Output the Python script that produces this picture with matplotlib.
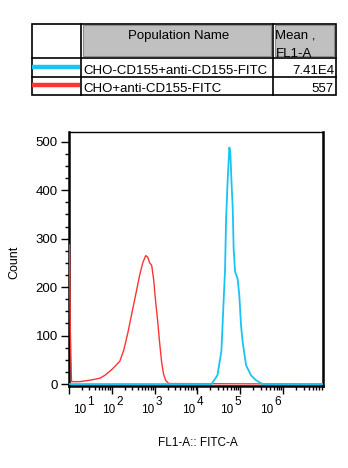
import numpy as np
import matplotlib
matplotlib.use("Agg")
import matplotlib.pyplot as plt
from matplotlib.patches import Rectangle
from matplotlib.ticker import MultipleLocator, LogLocator, NullFormatter

plt.rcParams['font.family'] = ['Liberation Sans', 'DejaVu Sans']

# populations shown in the overlay
populations = ["CHO-CD155+anti-CD155-FITC", "CHO+anti-CD155-FITC"]
mean_fl1 = ["7.41E4", "557"]
colors = ["#18c4f2", "#ff3333"]

# histogram outlines, x in log10(FL1-A)
red_log = [1.01, 1.03, 1.058, 1.256, 1.488, 1.721, 1.837, 2.0, 2.186, 2.279,
           2.372, 2.465, 2.558, 2.651, 2.721, 2.791, 2.837, 2.884, 2.93, 2.977,
           3.023, 3.07, 3.116, 3.163, 3.209, 3.256, 3.326, 6.93]
red_count = [287, 115, 5, 5, 8, 12, 18, 30, 47, 70,
             105, 145, 185, 225, 250, 265, 262, 250, 245, 215,
             170, 130, 85, 45, 20, 8, 1, 0]

blue_log = [1.0, 4.326, 4.465, 4.558, 4.605, 4.644, 4.667, 4.705, 4.744, 4.767,
            4.798, 4.821, 4.844, 4.877, 4.937, 4.977, 5.016, 5.053, 5.133, 5.249,
            5.365, 5.519, 6.93]
blue_count = [0, 0, 18, 68, 162, 238, 340, 422, 488, 477,
              408, 367, 279, 232, 217, 182, 121, 88, 39, 18,
              8, 0, 0]

decades = [1, 2, 3, 4, 5, 6]
y_ticks = [0, 100, 200, 300, 400, 500]

W, H = 348, 468
fig = plt.figure(figsize=(W / 100, H / 100), dpi=100)

# ---- statistics table drawn in pixel coordinates ----
tab = fig.add_axes([0, 0, 1, 1])
tab.set_xlim(0, W)
tab.set_ylim(H, 0)
tab.axis('off')

x0, x1, x2, x3 = 31.5, 80.5, 272.5, 336
y0, y1, y2, y3 = 23.5, 58, 76.5, 94.5
tab.add_patch(Rectangle((82.5, 25), x2 - 84.5, 30.5, fc='#c0c0c0', ec='#8c8c8c', lw=0.8))
tab.add_patch(Rectangle((274.5, 25), x3 - 276.5, 30.5, fc='#c0c0c0', ec='#8c8c8c', lw=0.8))
tab.add_patch(Rectangle((x0, y0), x3 - x0, y3 - y0, fc='none', ec='black', lw=1.2))
for xv in (x1, x2):
    tab.plot([xv, xv], [y0, y3], color='black', lw=1.2)
for yv in (y1, y2):
    tab.plot([x0, x3], [yv, yv], color='black', lw=1.2)

tab.text((x1 + x2) / 2 + 2, 39, "Population Name", ha='center', va='baseline', fontsize=9.5)
tab.text(275, 39, "Mean ,", ha='left', va='baseline', fontsize=9.5)
tab.text(276, 57, "FL1-A", ha='left', va='baseline', fontsize=9.5)
row_base = [74, 92]
row_line = [67, 85]
for name, mean, c, yb, yl in zip(populations, mean_fl1, colors, row_base, row_line):
    tab.plot([x0 + 0.5, x1 - 0.5], [yl, yl], color=c, lw=3.2, solid_capstyle='butt')
    tab.text(83, yb, name, ha='left', va='baseline', fontsize=9.5)
    tab.text(334, yb, mean, ha='right', va='baseline', fontsize=9.5)

# ---- histogram overlay ----
ax = fig.add_axes([69 / W, (H - 386) / H, (323 - 69) / W, (386 - 132) / H])
ax.plot(10 ** np.array(red_log), red_count, color=colors[1], lw=1.0, zorder=3)
ax.plot(10 ** np.array(blue_log), blue_count, color=colors[0], lw=1.3, zorder=4)

ax.set_xscale('log')
ax.set_xlim(10 ** 1, 10 ** 6.93)
ax.set_ylim(-4, 520)

ax.set_xticks([10 ** d for d in decades])
ax.xaxis.set_minor_locator(LogLocator(base=10, subs=np.arange(2, 10), numticks=20))
ax.xaxis.set_minor_formatter(NullFormatter())
ax.set_xticklabels([])
ax.tick_params(axis='x', which='major', length=6, width=1, direction='out')
ax.tick_params(axis='x', which='minor', length=3, width=1, direction='out')

ax.set_yticks(y_ticks)
ax.yaxis.set_minor_locator(MultipleLocator(25))
ax.tick_params(axis='y', which='major', length=6, width=1, direction='out', labelsize=9.5, pad=2)
ax.tick_params(axis='y', which='minor', length=3, width=1, direction='out')

for side in ('left', 'bottom', 'right'):
    ax.spines[side].set_linewidth(1.8)
ax.spines['top'].set_linewidth(1.0)

# decade labels: "10" with the exponent raised at full size, offset from the ticks
label_right_px = [86, 115, 154, 195, 233, 273]
for d, px in zip(decades, label_right_px):
    fig.text(px / W, (H - 413) / H, "10", ha='right', va='baseline', fontsize=8.5)
    fig.text((px + 1.5) / W, (H - 405) / H, str(d), ha='left', va='baseline', fontsize=8.5)

fig.text(14 / W, (H - 262) / H, "Count", rotation=90, ha='center', va='center', fontsize=9)
fig.text(198 / W, (H - 443) / H, "FL1-A:: FITC-A", ha='center', va='center', fontsize=8.5)

fig.savefig("out.png", dpi=100)
